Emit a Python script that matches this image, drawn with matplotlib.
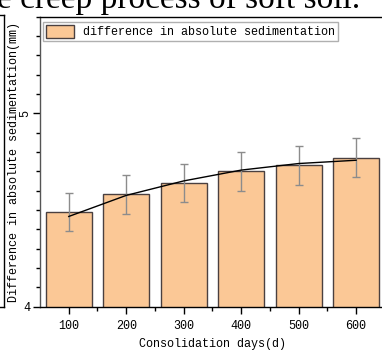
import numpy as np
import matplotlib
matplotlib.use("Agg")
import matplotlib.pyplot as plt
from matplotlib.lines import Line2D

# values
days = [100, 200, 300, 400, 500, 600]
diff = [4.49, 4.58, 4.64, 4.70, 4.73, 4.77]
err = [0.10, 0.10, 0.10, 0.10, 0.10, 0.10]
fit_y = [4.466, 4.575, 4.650, 4.706, 4.740, 4.757]
xtick_vals = [100, 200, 300, 400, 500, 600]
ytick_vals = [4, 5]

MONO = "Liberation Mono"
W, H = 382, 352

fig = plt.figure(figsize=(W / 100, H / 100), dpi=100)
# axes placed in pixels (left 40, bottom 306.5, top 16.7); right edge runs past the figure
ax = fig.add_axes([40 / W, (H - 306.5) / H, 344.8 / W, (306.5 - 16.7) / H])

ax.bar(days, diff, width=80, color="#fbc896", edgecolor="#4a4040", linewidth=1,
       label="difference in absolute sedimentation", zorder=2)
ax.errorbar(days, diff, yerr=err, fmt="none", ecolor="#8c8c8c", elinewidth=1,
            capsize=3, capthick=1, zorder=3)
ax.plot(days, fit_y, color="black", linewidth=1, zorder=4)

ax.set_xlim(50, 650)
ax.set_ylim(4, 5.5)
ax.set_xticks(xtick_vals)
ax.set_xticks([150, 250, 350, 450, 550], minor=True)
ax.set_yticks(ytick_vals)
ax.set_yticks(np.round(np.arange(4.1, 5.5, 0.1), 1), minor=True)
ax.tick_params(which="major", direction="out", length=5, width=1, labelsize=8.5)
ax.tick_params(axis="x", which="major", pad=5)
ax.tick_params(axis="y", which="major", pad=2)
ax.tick_params(which="minor", direction="out", length=3, width=1)
for lab in ax.get_xticklabels():
    lab.set_fontfamily(MONO)
ylabs = ax.set_yticklabels([str(v) for v in ytick_vals], fontfamily=MONO, fontsize=8.5)
# the "5" label stands on its side in the reference
ylabs[1].set_rotation(90)
ylabs[1].set_va("center")
ylabs[1].set_ha("center")
ylabs[1].set_x(-0.0145)

for s in ["left", "bottom", "top", "right"]:
    ax.spines[s].set_linewidth(1)
ax.spines["left"].set_color("#555555")

ax.set_xlabel("Consolidation days(d)", fontfamily=MONO, fontsize=8.5, labelpad=4)
fig.text(14 / W, (H - 162) / H, "Difference in absolute sedimentation(mm)",
         fontfamily=MONO, fontsize=8.5, rotation=90, ha="center", va="center")

leg = ax.legend(loc="upper left", bbox_to_anchor=(3 / 344.8, (306.5 - 22) / 289.8),
                borderaxespad=0, prop={"family": MONO, "size": 8.5},
                fancybox=False, framealpha=1, edgecolor="#b0b0b0",
                handlelength=2.4, handleheight=1.3, handletextpad=0.7,
                borderpad=0.25)
leg.get_frame().set_linewidth(1)

# cut-off title above the chart
fig.text(-3 / W, 1 - 8 / H, "e creep process of soft soil.", fontfamily="Liberation Serif",
         fontsize=24, ha="left", va="baseline")

# edge of the neighbouring box on the far left
fig.add_artist(Line2D([4 / W, 4 / W], [1 - 15 / H, 1 - 307 / H], color="black", lw=1,
                      transform=fig.transFigure))
fig.add_artist(Line2D([0, 4 / W], [1 - 307 / H, 1 - 307 / H], color="black", lw=1,
                      transform=fig.transFigure))
fig.add_artist(Line2D([0, 4 / W], [1 - 15 / H, 1 - 15 / H], color="black", lw=1,
                      transform=fig.transFigure))

fig.savefig("out.png", dpi=100)
